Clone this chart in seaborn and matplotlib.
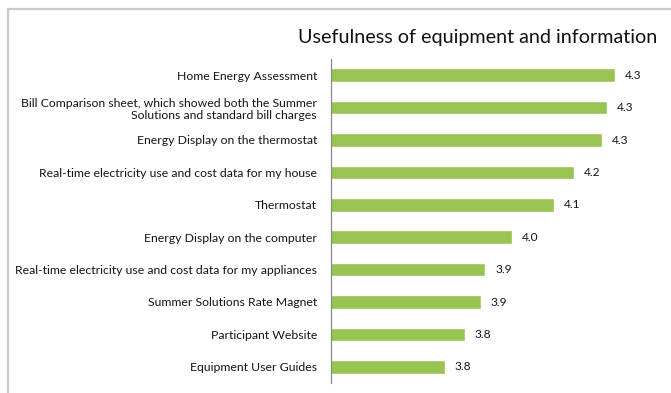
import matplotlib
matplotlib.use("Agg")
import matplotlib.pyplot as plt
import seaborn as sns
import pandas as pd
from matplotlib.patches import Rectangle

# Survey items and their mean usefulness ratings
items = [
    "Home Energy Assessment",
    "Bill Comparison sheet, which showed both the Summer\nSolutions and standard bill charges",
    "Energy Display on the thermostat",
    "Real-time electricity use and cost data for my house",
    "Thermostat",
    "Energy Display on the computer",
    "Real-time electricity use and cost data for my appliances",
    "Summer Solutions Rate Magnet",
    "Participant Website",
    "Equipment User Guides",
]
ratings = [4.31, 4.285, 4.27, 4.18, 4.115, 3.98, 3.895, 3.88, 3.83, 3.765]

title = "Usefulness of equipment and information"
axis_min, axis_max = 3.4, 4.4

df = pd.DataFrame({"item": items, "rating": ratings})

sns.set_theme(style="white")
plt.rcParams["font.family"] = ["Lato", "DejaVu Sans"]

fig = plt.figure(figsize=(6.71, 3.93), dpi=100)
fig.patch.set_facecolor("white")

# light chart frame
fig.patches.append(Rectangle((8 / 671, -0.05), 1.1, 1 - 9 / 393 + 0.05,
                             transform=fig.transFigure, fill=False,
                             edgecolor="#c9c9c9", linewidth=1.6))

ax = fig.add_axes([331 / 671, 1 - 383 / 393, (643 - 331) / 671, (383 - 59) / 393])
sns.barplot(data=df, x="rating", y="item", orient="h", color="#98c452",
            saturation=1, width=0.42, ax=ax)

ax.set_xlim(axis_min, axis_max)
ax.set_xlabel("")
ax.set_ylabel("")
ax.set_xticks([])
for s in ["top", "right", "bottom"]:
    ax.spines[s].set_visible(False)
ax.spines["left"].set_color("#8a8a8a")
ax.spines["left"].set_linewidth(0.9)
ax.tick_params(axis="y", length=0, pad=10, labelsize=8.8, labelcolor="#151515")
for lab in ax.get_yticklabels():
    lab.set_multialignment("right")
    lab.set_linespacing(1.15)

for i, v in enumerate(ratings):
    ax.annotate(f"{v:.1f}", (v, i), xytext=(7, 0), textcoords="offset points",
                va="center", ha="left", fontsize=8.6, color="#151515")

fig.text(657 / 671, 1 - 37 / 393, title, ha="right", va="center",
         fontsize=14.2, color="#111111")

fig.savefig("out.png", dpi=100)
